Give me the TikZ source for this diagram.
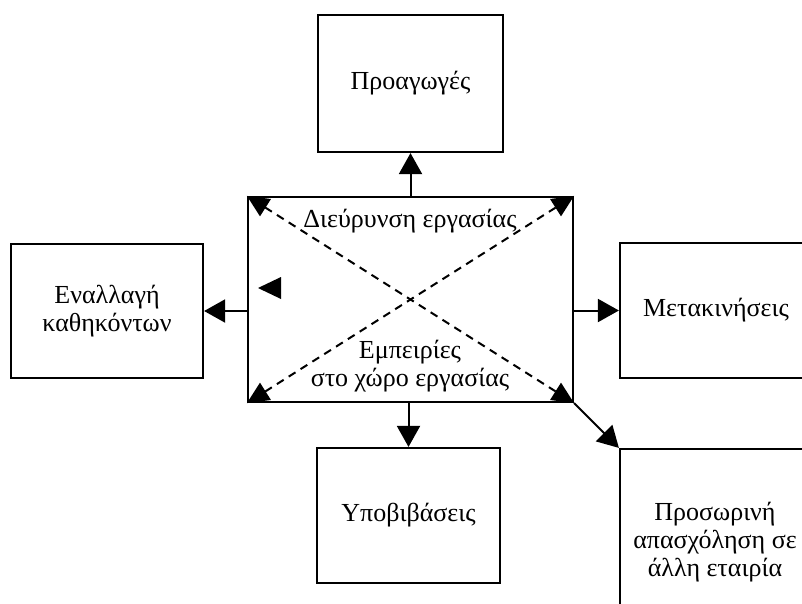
\documentclass[tikz,border=0pt]{standalone}
\usepackage{fontspec}
\setmainfont{Liberation Serif}
\usetikzlibrary{arrows.meta}
\tikzset{
  font=\fontsize{26}{28}\selectfont,      % Times-like text
  box/.style   = {rectangle, draw, line width=2.2pt,
                  align=center, inner sep=0pt},
  arrow/.style = {line width=2pt, -{Triangle[length=21pt,width=23pt]}},
  cross/.style = {line width=2pt, dash pattern=on 8pt off 6pt,
                  {Triangle[length=22pt,width=20pt]}-{Triangle[length=22pt,width=20pt]}}
}

\begin{document}
\begin{tikzpicture}[x=1pt,y=-1pt]
  \useasboundingbox (0,0) rectangle (802,603);
  \clip (0,0) rectangle (802,603);
  % centre box
  \node[box, minimum width=325pt, minimum height=205pt] (main) at (410.5,299.5) {};
  \node (wide) at (410,221) {Διεύρυνση εργασίας};
  \node[align=center] (exp) at (410,366) {Εμπειρίες\\στο χώρο εργασίας};
  % outer boxes
  \node[box, minimum width=185pt, minimum height=137pt] (promo) at (410.5,83.5) {Προαγωγές};
  \node[box, minimum width=183pt, minimum height=135pt] (demo) at (408.5,515.5) {Υποβιβάσεις};
  \node[box, minimum width=192pt, minimum height=134pt] (swap) at (107,311) {Εναλλαγή\\καθηκόντων};
  \node[box, minimum width=192pt, minimum height=135pt] (move) at (716,310.5) {Μετακινήσεις};
  \node[box, minimum width=190pt, minimum height=186pt] (temp) at (715,542) {Προσωρινή\\απασχόληση σε\\άλλη εταιρία};
  % connectors
  \draw[arrow] (main.north -| promo.south) -- (promo.south);
  \draw[arrow] (main.south -| demo.north) -- (demo.north);
  \draw[arrow] (main.west |- swap.east) -- (swap.east);
  \draw[arrow] (main.east |- move.west) -- (move.west);
  \draw[arrow] (main.south east) -- (temp.north west);
  \draw[cross] (main.north west) -- (main.south east);
  \draw[cross] (main.south west) -- (main.north east);
  \fill (258,288) -- (281,277) -- (281,299) -- cycle;
\end{tikzpicture}
\end{document}
